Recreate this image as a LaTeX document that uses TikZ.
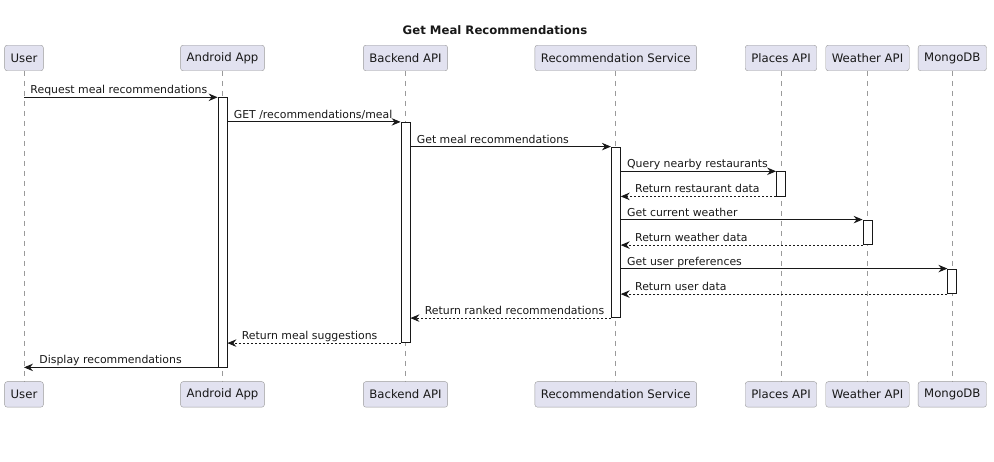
\documentclass[tikz,border=0pt]{standalone}
\usepackage{fontspec}
\setmainfont{DejaVu Sans}
\usepackage{xcolor}
\usepackage{tikz}
\usetikzlibrary{arrows.meta}
\definecolor{umlfill}{HTML}{E2E2F0}
\definecolor{umlline}{HTML}{181818}
\definecolor{umlgray}{HTML}{9A9A9A}

\begin{document}
\begin{tikzpicture}[x=1pt,y=-1pt,
	actor/.style={draw=umlgray,fill=umlfill,rounded corners=2.5pt,minimum height=25.5pt,
		inner xsep=6pt,inner ysep=0pt,text=umlline,font=\fontsize{11.7}{14}\selectfont},
	act/.style={draw=umlline,fill=white,line width=0.8pt,minimum width=9pt,inner sep=0pt},
	life/.style={draw=umlgray,dash pattern=on 5pt off 5pt,line width=0.8pt},
	msg/.style={inner sep=0pt,anchor=base west,yshift=3.5pt,text=umlline,font=\fontsize{10.9}{13}\selectfont},
	call/.style={draw=umlline,line width=0.9pt,-{Stealth[length=9pt,width=7.5pt,inset=3pt]}},
	reply/.style={call,dash pattern=on 2pt off 2pt}]
		\useasboundingbox (0,0) rectangle (994,462);
		\node[text=umlline,font=\bfseries\fontsize{11.7}{14}\selectfont] (title) at (495,30) {Get Meal Recommendations};
		% participants, top and bottom
		\node[actor] (userT) at (24,58) {User};
		\node[actor] (appT) at (222.5,58) {Android App};
		\node[actor] (apiT) at (405.5,58) {Backend API};
		\node[actor] (recT) at (615.8,58) {Recommendation Service};
		\node[actor] (placesT) at (781,58) {Places API};
		\node[actor] (weatherT) at (867.5,58) {Weather API};
		\node[actor] (dbT) at (952.3,58) {MongoDB};
		\node[actor] (userB) at (24,394.4) {User};
		\node[actor] (appB) at (222.5,394.4) {Android App};
		\node[actor] (apiB) at (405.5,394.4) {Backend API};
		\node[actor] (recB) at (615.8,394.4) {Recommendation Service};
		\node[actor] (placesB) at (781,394.4) {Places API};
		\node[actor] (weatherB) at (867.5,394.4) {Weather API};
		\node[actor] (dbB) at (952.3,394.4) {MongoDB};
		%
		% lifelines
		\path[life]
		(userT) -- (userB)
		(appT) -- (appB)
		(apiT) -- (apiB)
		(recT) -- (recB)
		(placesT) -- (placesB)
		(weatherT) -- (weatherB)
		(dbT) -- (dbB);
		%
		% activation bars
		\node[act,minimum height=269.3pt] (appAct) at (222.5,232.35) {};
		\node[act,minimum height=220.4pt] (apiAct) at (405.5,232.5) {};
		\node[act,minimum height=170.7pt] (recAct) at (615.8,232.35) {};
		\node[act,minimum height=24.3pt] (placesAct) at (781,183.85) {};
		\node[act,minimum height=24.7pt] (weatherAct) at (867.5,232.35) {};
		\node[act,minimum height=24.7pt] (dbAct) at (952.3,281.35) {};
		%
		% requests
		\path[every edge/.style=call]
		(userT |- appAct.north) edge node[msg,pos=0,xshift=6pt]{Request meal recommendations} (appAct.north west)
		(appAct.east |- apiAct.north) edge node[msg,pos=0,xshift=6pt]{GET /recommendations/meal} (apiAct.north west)
		(apiAct.east |- recAct.north) edge node[msg,pos=0,xshift=6pt]{Get meal recommendations} (recAct.north west)
		(recAct.east |- placesAct.north) edge node[msg,pos=0,xshift=6pt]{Query nearby restaurants} (placesAct.north west)
		(recAct.east |- weatherAct.north) edge node[msg,pos=0,xshift=6pt]{Get current weather} (weatherAct.north west)
		(recAct.east |- dbAct.north) edge node[msg,pos=0,xshift=6pt]{Get user preferences} (dbAct.north west)
		(appAct.south west) edge node[msg,pos=1,xshift=15pt]{Display recommendations} (userT |- appAct.south);
		% replies
		\path[every edge/.style=reply]
		(placesAct.south west) edge node[msg,pos=1,xshift=14pt]{Return restaurant data} (recAct.east |- placesAct.south)
		(weatherAct.south west) edge node[msg,pos=1,xshift=14pt]{Return weather data} (recAct.east |- weatherAct.south)
		(dbAct.south west) edge node[msg,pos=1,xshift=14pt]{Return user data} (recAct.east |- dbAct.south)
		(recAct.south west) edge node[msg,pos=1,xshift=14pt]{Return ranked recommendations} (apiAct.east |- recAct.south)
		(apiAct.south west) edge node[msg,pos=1,xshift=14pt]{Return meal suggestions} (appAct.east |- apiAct.south);
\end{tikzpicture}
\end{document}
